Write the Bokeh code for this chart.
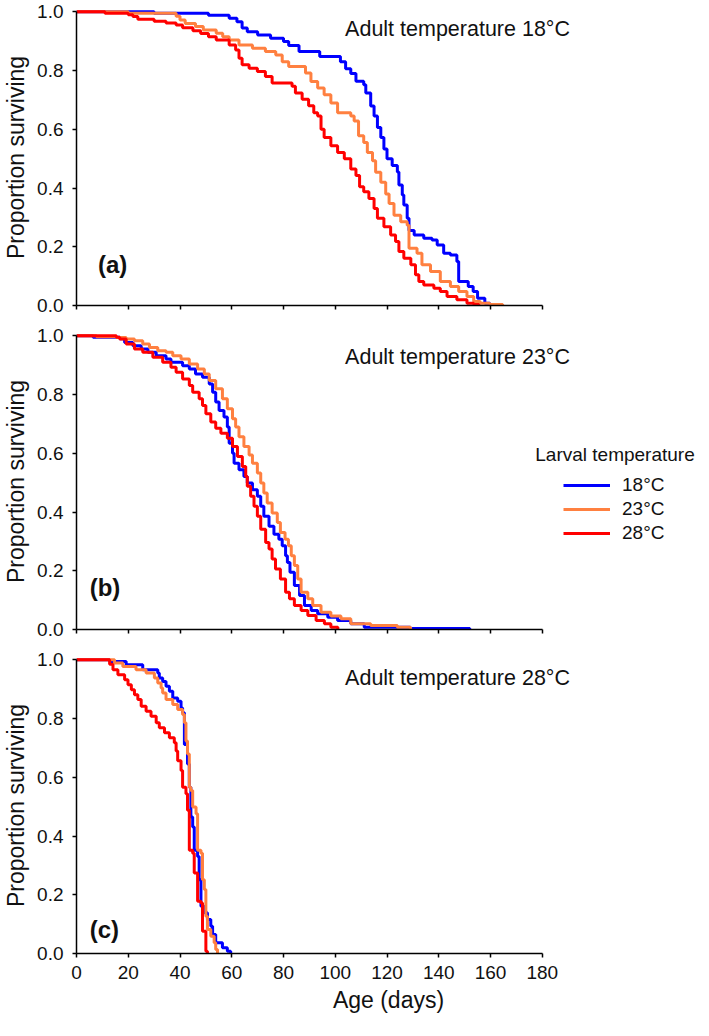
from bokeh.plotting import figure
from bokeh.models import Range1d, FixedTicker, Label, Legend, LegendItem, PrintfTickFormatter
from bokeh.layouts import column
from bokeh.embed import file_html
from bokeh.resources import INLINE

FONT = "Liberation Sans"
TXT = "#111111"

x_ticks = [0, 20, 40, 60, 80, 100, 120, 140, 160, 180]
y_ticks = [0.0, 0.2, 0.4, 0.6, 0.8, 1.0]

larval_labels = ["18°C", "23°C", "28°C"]
larval_colors = ["#0000FF", "#FF8040", "#FF0000"]
panel_titles = ["Adult temperature 18°C", "Adult temperature 23°C", "Adult temperature 28°C"]
panel_tags = ["(a)", "(b)", "(c)"]

# ---- Panel (a): adult 18°C ----
a18_t = [0, 30, 51, 59, 62, 64, 66, 70, 75, 80, 82, 86, 94, 102, 104, 106, 108, 111, 111.8, 113.7,
         115, 116.3, 117.6, 118.8, 120, 122, 124, 124.6, 125.9, 126.5, 127.8, 128.5, 130.5, 134.2,
         137.4, 139.4, 141.9, 144.5, 147, 147.7, 151.4, 153.3, 155, 157.8, 159.7, 164]
a18_s = [1.0, 0.995, 0.988, 0.978, 0.966, 0.945, 0.932, 0.921, 0.91, 0.899, 0.885, 0.865, 0.848, 0.83,
         0.806, 0.79, 0.764, 0.752, 0.724, 0.679, 0.645, 0.606, 0.572, 0.533, 0.5, 0.477, 0.455, 0.41,
         0.376, 0.342, 0.297, 0.255, 0.24, 0.229, 0.223, 0.206, 0.178, 0.172, 0.15, 0.082, 0.065,
         0.048, 0.025, 0.008, 0.003, 0.0]
a23_t = [0, 20, 38.5, 40, 42, 46, 49, 54, 56.5, 59, 62.8, 68, 73, 77, 79.5, 82, 88.5, 90.6, 93.2,
         95.7, 98.3, 100.9, 106, 107.3, 109, 111, 112.4, 114.4, 115.6, 117.6, 119.5, 120.8, 122.7,
         125.3, 127.8, 128.5, 131.6, 133.5, 136.8, 140.6, 144.5, 147.7, 150.9, 153.5, 156, 159.7, 164.7]
a23_s = [1.0, 0.995, 0.985, 0.972, 0.96, 0.95, 0.938, 0.927, 0.915, 0.904, 0.887, 0.876, 0.865, 0.853,
         0.83, 0.814, 0.792, 0.763, 0.741, 0.718, 0.69, 0.656, 0.645, 0.628, 0.578, 0.555, 0.521, 0.493,
         0.454, 0.42, 0.38, 0.347, 0.307, 0.285, 0.273, 0.195, 0.178, 0.139, 0.116, 0.082, 0.065, 0.048,
         0.031, 0.014, 0.008, 0.003, 0.0]
a28_t = [0, 11, 20, 21.8, 23.7, 30, 34.6, 38.5, 41, 45, 48, 51, 54, 59, 61.5, 62.8, 64, 66.7, 69.9,
         73, 75.6, 83.3, 84.6, 87.2, 89.7, 91.7, 93.2, 94.5, 95.7, 98.3, 100.9, 103.5, 106, 108, 109.4,
         111, 113, 115, 116.3, 118.8, 121.4, 123.3, 124.6, 126.5, 129.2, 131, 132.3, 134.2, 138.1,
         140.6, 143.2, 147, 150.9, 153.5, 155.5]
a28_s = [1.0, 0.995, 0.99, 0.984, 0.975, 0.968, 0.962, 0.955, 0.946, 0.936, 0.926, 0.915, 0.904, 0.887,
         0.87, 0.842, 0.82, 0.808, 0.797, 0.78, 0.758, 0.747, 0.724, 0.702, 0.68, 0.656, 0.645, 0.6,
         0.572, 0.544, 0.521, 0.5, 0.465, 0.443, 0.404, 0.387, 0.364, 0.33, 0.297, 0.268, 0.24, 0.218,
         0.184, 0.161, 0.139, 0.105, 0.082, 0.07, 0.059, 0.048, 0.031, 0.02, 0.008, 0.003, 0.0]

# ---- Panel (b): adult 23°C ----
b18_t = [0, 6.4, 16.7, 18.6, 21.8, 25, 27.6, 30.8, 34.6, 36.5, 41, 43.6, 46, 48.7, 51.3, 52.6, 53.8,
         55.1, 57, 58.3, 59, 60.3, 60.9, 62.8, 64.7, 66, 68, 69.9, 71.2, 72.4, 74.4, 76.3, 78.2, 79.5,
         80.8, 81.5, 82.5, 84.2, 86.2, 88.1, 90.7, 93.2, 97.1, 100.9, 106, 111.2, 129, 152]
b18_s = [1.0, 0.995, 0.99, 0.977, 0.966, 0.955, 0.944, 0.932, 0.921, 0.91, 0.898, 0.887, 0.87, 0.859,
         0.836, 0.808, 0.775, 0.746, 0.724, 0.69, 0.634, 0.6, 0.566, 0.544, 0.521, 0.499, 0.476, 0.454,
         0.42, 0.386, 0.352, 0.324, 0.307, 0.285, 0.251, 0.228, 0.195, 0.15, 0.116, 0.082, 0.065, 0.054,
         0.042, 0.031, 0.02, 0.008, 0.003, 0.0]
b23_t = [0, 7.7, 15.4, 19.2, 22.4, 25.6, 28.2, 31.4, 34.6, 37.2, 40.4, 43.6, 46.8, 49.4, 51.3, 53.8,
         56.4, 58.3, 60.3, 61.5, 62.8, 64.7, 66.7, 68, 69.9, 71.2, 72.4, 73.7, 75.6, 77.6, 78.8, 80.6,
         81.9, 83, 84.2, 85.5, 86.8, 89.4, 91.3, 94.5, 98.3, 102.2, 106, 113.7, 124, 129.1]
b23_s = [1.0, 0.997, 0.994, 0.989, 0.983, 0.972, 0.96, 0.949, 0.944, 0.932, 0.921, 0.904, 0.887, 0.87,
         0.848, 0.82, 0.786, 0.752, 0.718, 0.69, 0.656, 0.623, 0.594, 0.566, 0.533, 0.499, 0.465, 0.431,
         0.397, 0.364, 0.33, 0.307, 0.285, 0.251, 0.218, 0.172, 0.127, 0.105, 0.082, 0.059, 0.046,
         0.037, 0.02, 0.014, 0.008, 0.0]
b28_t = [0, 15.4, 16.7, 19.2, 22.4, 25.6, 29.5, 33.3, 36.5, 38.5, 41, 43.6, 44.9, 47.4, 48.7, 50,
         51.9, 53.8, 55.8, 58.3, 60.3, 62.2, 64.1, 65.4, 66, 67.3, 68.6, 69.9, 71.2, 73.1, 74.4, 75.6,
         76.9, 78.8, 80.8, 82.3, 84.2, 86.8, 89.4, 92.6, 95.8, 98.3, 101]
b28_s = [1.0, 0.995, 0.989, 0.972, 0.955, 0.944, 0.927, 0.91, 0.893, 0.876, 0.853, 0.831, 0.808,
         0.786, 0.763, 0.735, 0.707, 0.685, 0.668, 0.651, 0.623, 0.589, 0.555, 0.521, 0.488, 0.454,
         0.42, 0.386, 0.341, 0.296, 0.274, 0.24, 0.206, 0.172, 0.127, 0.105, 0.082, 0.065, 0.048,
         0.031, 0.02, 0.008, 0.0]

# ---- Panel (c): adult 28°C ----
c18_t = [0, 12.8, 19.2, 25.6, 31.4, 32, 33.3, 34.6, 35.9, 37.2, 39.1, 40.4, 41, 41.7, 42.9, 43.6,
         44.2, 44.9, 45.5, 46.8, 47.4, 48.1, 49.4, 50.6, 51.9, 52.6, 53.8, 56.4, 58.3, 59.6]
c18_s = [1.0, 0.994, 0.983, 0.966, 0.955, 0.938, 0.926, 0.91, 0.893, 0.87, 0.859, 0.836, 0.82, 0.712,
         0.645, 0.566, 0.465, 0.431, 0.352, 0.33, 0.251, 0.161, 0.139, 0.116, 0.093, 0.065, 0.037,
         0.02, 0.008, 0.0]
c23_t = [0, 14.7, 17.9, 23, 26.9, 30.1, 31.4, 32.7, 33.3, 34.6, 37.2, 39.1, 41, 41.7, 42.3, 42.9,
         43.6, 44.2, 44.9, 46.2, 46.8, 48.1, 48.7, 49.4, 50, 50.6, 51.9, 53.2, 53.8, 54.5]
c23_s = [1.0, 0.989, 0.977, 0.966, 0.955, 0.938, 0.921, 0.904, 0.887, 0.865, 0.848, 0.831, 0.814,
         0.786, 0.724, 0.679, 0.566, 0.555, 0.499, 0.476, 0.352, 0.341, 0.251, 0.218, 0.127, 0.082,
         0.059, 0.037, 0.014, 0.0]
c28_t = [0, 12.8, 14.1, 16, 18.6, 19.9, 21.2, 22.4, 23.7, 25, 26.9, 28.8, 30.8, 32, 34, 35.9, 37.8,
         38.5, 39.1, 40.4, 41, 42.3, 42.9, 43.6, 44.9, 45.5, 46.8, 48.1, 48.7, 50, 50.6]
c28_s = [1.0, 0.985, 0.966, 0.949, 0.932, 0.915, 0.898, 0.881, 0.865, 0.842, 0.825, 0.808, 0.786,
         0.769, 0.752, 0.735, 0.718, 0.69, 0.656, 0.623, 0.566, 0.544, 0.488, 0.352, 0.341, 0.274,
         0.178, 0.172, 0.076, 0.008, 0.0]

panels = [
    [(a18_t, a18_s), (a23_t, a23_s), (a28_t, a28_s)],
    [(b18_t, b18_s), (b23_t, b23_s), (b28_t, b28_s)],
    [(c18_t, c18_s), (c23_t, c23_s), (c28_t, c28_s)],
]
title_y = [0.943, 0.929, 0.939]
tag_pos = [(8.3, 0.139), (5.1, 0.142), (5.1, 0.081)]

# layout (pixels)
FIG_W = 700
BORDER_L = 73
FRAME_W = FIG_W - BORDER_L          # frame runs to the right edge so the legend is not clipped
PX_PER_DAY = 2.6                    # 180 days -> 468 px
X_END = FRAME_W / PX_PER_DAY
Y_END = 1.008
fig_heights = [319, 324, 377]
borders_top = [9, 14, 14]
borders_bottom = [14, 14, 67]

figs = []
line_refs = []
for i in range(3):
    last = (i == 2)
    p = figure(width=FIG_W, height=fig_heights[i], output_backend="svg", toolbar_location=None,
               x_range=Range1d(0, X_END), y_range=Range1d(0, Y_END),
               min_border_left=BORDER_L, min_border_right=0,
               min_border_top=borders_top[i], min_border_bottom=borders_bottom[i])
    p.outline_line_color = None
    p.xgrid.grid_line_color = None
    p.ygrid.grid_line_color = None
    p.background_fill_color = "white"
    p.border_fill_color = "white"

    for ax in (p.xaxis[0], p.yaxis[0]):
        ax.axis_line_color = "black"
        ax.axis_line_width = 1.5
        ax.major_tick_line_color = "black"
        ax.major_tick_line_width = 1.5
        ax.major_tick_in = 0
        ax.major_tick_out = 4
        ax.minor_tick_line_color = None
        ax.major_label_text_font = FONT
        ax.major_label_text_font_size = "19px"
        ax.major_label_text_color = TXT
        ax.axis_label_text_font = FONT
        ax.axis_label_text_font_size = "23px"
        ax.axis_label_text_font_style = "normal"
        ax.axis_label_text_color = TXT

    p.xaxis.ticker = FixedTicker(ticks=x_ticks)
    p.xaxis.bounds = (0, 180)
    p.yaxis.ticker = FixedTicker(ticks=y_ticks)
    p.yaxis.formatter = PrintfTickFormatter(format="%.1f")
    p.yaxis.bounds = (0, 1)
    p.yaxis.axis_label = "Proportion surviving"
    p.yaxis.major_label_standoff = 9
    p.yaxis.axis_label_standoff = 5
    p.xaxis.major_label_standoff = 8
    if last:
        p.xaxis.axis_label = "Age (days)"
        p.xaxis.axis_label_standoff = 5
    else:
        p.xaxis.major_label_text_color = None
        p.xaxis.major_label_standoff = 0

    rs = []
    for (t, s), col in zip(panels[i], larval_colors):
        r = p.step(x=t, y=s, mode="after", line_color=col, line_width=3)
        rs.append(r)
    line_refs.append(rs)

    p.add_layout(Label(x=103.8, y=title_y[i], text=panel_titles[i], text_font=FONT,
                       text_font_size="21.5px", text_color=TXT, text_baseline="middle",
                       text_align="left"))
    p.add_layout(Label(x=tag_pos[i][0], y=tag_pos[i][1], text=panel_tags[i], text_font=FONT,
                       text_font_size="24px", text_font_style="bold", text_color=TXT,
                       text_baseline="middle", text_align="left"))
    figs.append(p)

pb = figs[1]
pb.add_layout(Label(x=177.3, y=0.595, text="Larval temperature", text_font=FONT,
                    text_font_size="19px", text_color=TXT, text_baseline="middle",
                    text_align="left"))
legend = Legend(items=[LegendItem(label=lab, renderers=[r]) for lab, r in zip(larval_labels, line_refs[1])],
                location=(487, 84), orientation="vertical",
                glyph_width=47, glyph_height=24, label_height=24, label_standoff=12,
                spacing=0, padding=0, margin=0, border_line_color=None,
                background_fill_alpha=0, label_text_font=FONT, label_text_font_size="19px",
                label_text_color=TXT)
pb.add_layout(legend)

layout = column(*figs, spacing=0)
open("out.html", "w").write(file_html(layout, INLINE))
